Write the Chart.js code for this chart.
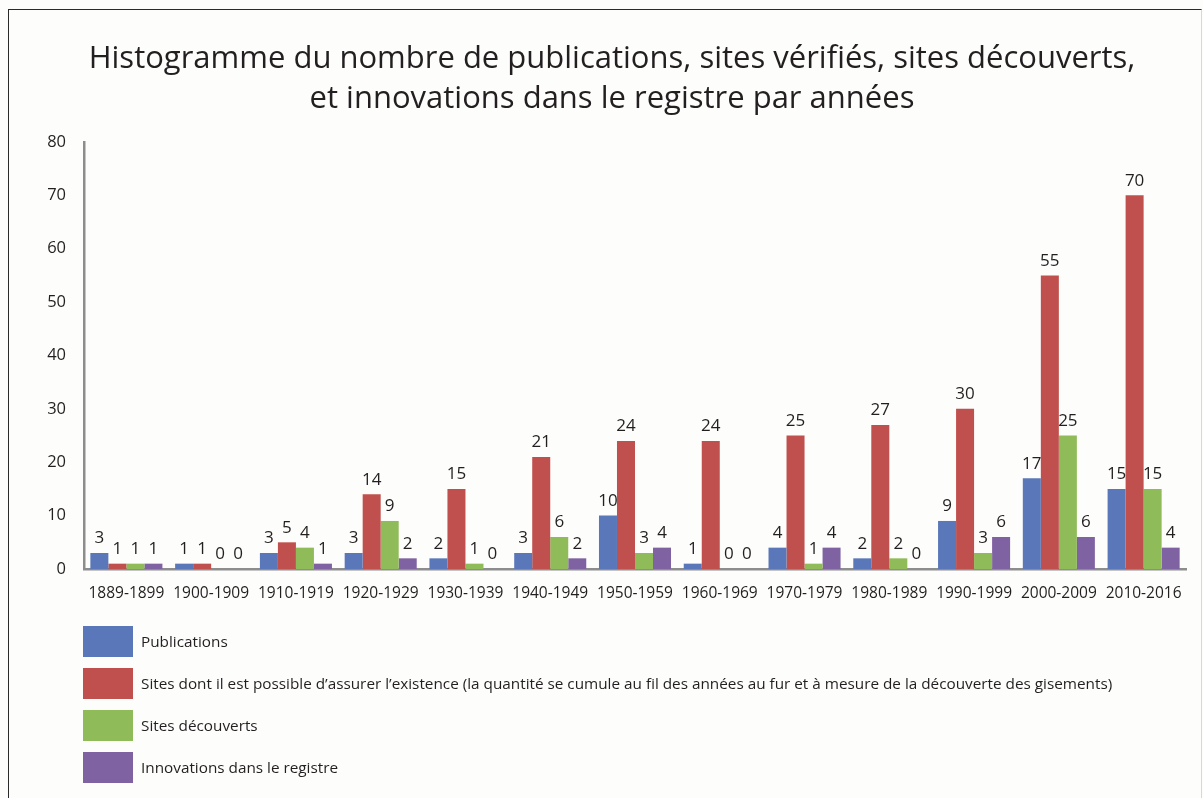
<!DOCTYPE html>
<html lang="fr">
<head>
<meta charset="utf-8">
<title>Histogramme</title>
<script src="https://cdn.jsdelivr.net/npm/chart.js@4.4.1/dist/chart.umd.min.js"></script>
<style>
  html, body { margin: 0; padding: 0; background: #fdfdfc; }
  body { width: 1203px; height: 798px; position: relative; overflow: hidden; font-family: "Open Sans", "Noto Sans", sans-serif; color: #231f20; }
  #frame { position: absolute; left: 8px; top: 9px; width: 1192px; height: 800px; border-top: 1.5px solid #2a2a2a; border-left: 1.5px solid #2a2a2a; border-right: 1px solid #d8d8d8; }
  #wrap { position: absolute; left: 0; top: 0; width: 1203px; height: 798px; }
  #legend { position: absolute; left: 83px; top: 620px; }
  .item { display: flex; align-items: center; height: 42px; }
  .swatch { width: 50px; height: 31px; margin-right: 8px; }
  .label { font-size: 15.3px; color: #231f20; }
</style>
</head>
<body>
<div id="frame"></div>
<div id="wrap"><canvas id="c" width="1203" height="798"></canvas></div>
<div id="legend"></div>
<script>
// Décennies en abscisse
const categories = ["1889-1899","1900-1909","1910-1919","1920-1929","1930-1939","1940-1949","1950-1959","1960-1969","1970-1979","1980-1989","1990-1999","2000-2009","2010-2016"];

// Séries
const publications = [3,1,3,3,2,3,10,1,4,2,9,17,15];
const sitesVerifies = [1,1,5,14,15,21,24,24,25,27,30,55,70];
const sitesDecouverts = [1,0,4,9,1,6,3,0,1,2,3,25,15];
const innovations = [1,0,1,2,0,2,4,0,4,0,6,6,4];

const seriesNames = [
  "Publications",
  "Sites dont il est possible d\u2019assurer l\u2019existence (la quantit\u00e9 se cumule au fil des ann\u00e9es au fur et \u00e0 mesure de la d\u00e9couverte des gisements)",
  "Sites d\u00e9couverts",
  "Innovations dans le registre"
];
const seriesColors = ["#5a78b9", "#c0504d", "#90bb59", "#7f62a1"];

const yTicks = [0,10,20,30,40,50,60,70,80];

const titleLines = [
  "Histogramme du nombre de publications, sites v\u00e9rifi\u00e9s, sites d\u00e9couverts,",
  "et innovations dans le registre par ann\u00e9es"
];

const textColor = "#231f20";
const fontFamily = "'Open Sans', 'Noto Sans', sans-serif";

// Étiquettes de valeur au-dessus de chaque barre
const valueLabels = {
  id: "valueLabels",
  afterDatasetsDraw(chart) {
    const ctx = chart.ctx;
    ctx.save();
    ctx.font = "17px " + fontFamily;
    ctx.fillStyle = textColor;
    ctx.textAlign = "center";
    ctx.textBaseline = "bottom";
    chart.data.datasets.forEach((ds, i) => {
      const meta = chart.getDatasetMeta(i);
      meta.data.forEach((bar, j) => {
        ctx.fillText(String(ds.data[j]), bar.x, bar.y - 6);
      });
    });
    ctx.restore();
  }
};

const seriesData = [publications, sitesVerifies, sitesDecouverts, innovations];

const chart = new Chart(document.getElementById("c"), {
  type: "bar",
  data: {
    labels: categories,
    datasets: seriesData.map((d, i) => ({
      label: seriesNames[i],
      data: d,
      backgroundColor: seriesColors[i],
      borderWidth: 0,
      categoryPercentage: 0.85,
      barPercentage: 1.0
    }))
  },
  options: {
    responsive: false,
    animation: false,
    layout: { padding: { left: 38, right: 17, top: 0, bottom: 187 } },
    plugins: {
      legend: { display: false },
      tooltip: { enabled: false },
      title: {
        display: true,
        text: titleLines,
        color: textColor,
        font: { family: fontFamily, size: 31, weight: "normal", lineHeight: 1.29 },
        padding: { top: 39, bottom: 23 }
      }
    },
    scales: {
      x: {
        grid: { display: false },
        border: { display: true, color: "#8d8d8d", width: 2.5 },
        ticks: { color: textColor, font: { family: fontFamily, size: 15.5 }, padding: 7, maxRotation: 0, autoSkip: false },
        afterFit(s) { s.height = 42; }
      },
      y: {
        min: 0,
        max: 80,
        afterBuildTicks(s) { s.ticks = yTicks.map(v => ({ value: v })); },
        grid: { display: false },
        border: { display: true, color: "#8d8d8d", width: 2.5 },
        ticks: { color: textColor, font: { family: fontFamily, size: 16.5 }, padding: 10 },
        afterFit(s) { s.width = 46; }
      }
    }
  },
  plugins: [valueLabels]
});

// Légende verticale sous le graphique
const legendEl = document.getElementById("legend");
chart.data.datasets.forEach(ds => {
  const row = document.createElement("div");
  row.className = "item";
  const sw = document.createElement("div");
  sw.className = "swatch";
  sw.style.background = ds.backgroundColor;
  const lb = document.createElement("div");
  lb.className = "label";
  lb.textContent = ds.label;
  row.appendChild(sw);
  row.appendChild(lb);
  legendEl.appendChild(row);
});
</script>
</body>
</html>
